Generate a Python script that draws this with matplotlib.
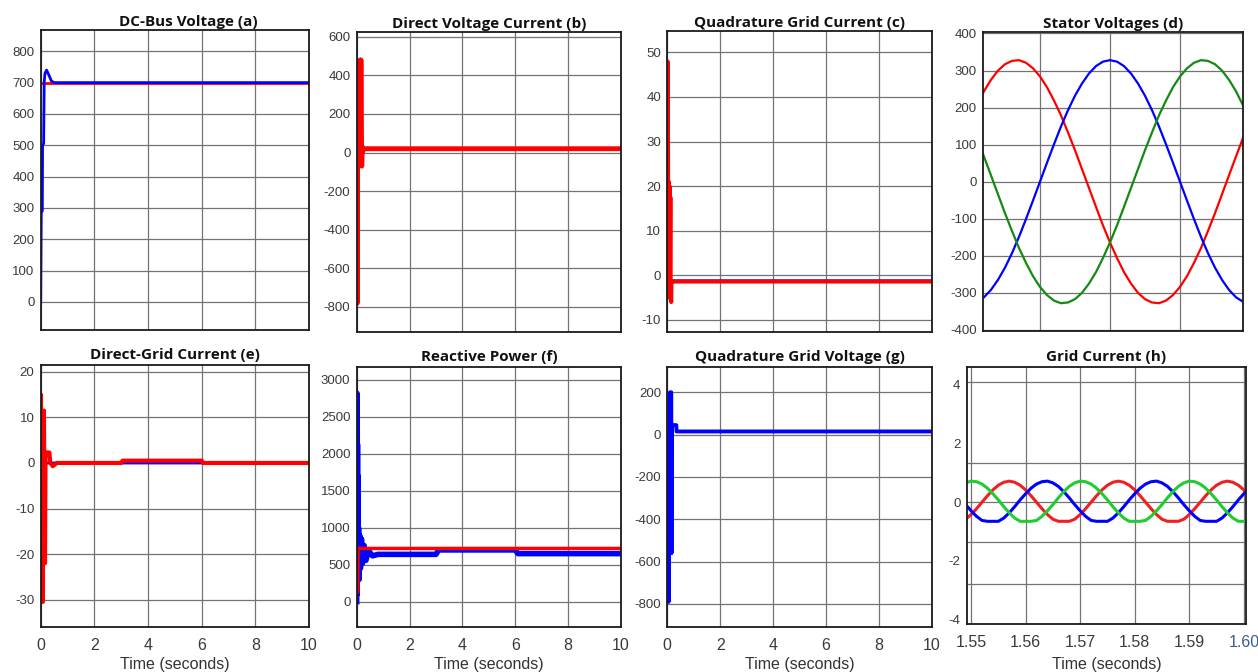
import matplotlib
matplotlib.use("Agg")
import matplotlib.pyplot as plt

plt.rcParams["font.family"] = ["Liberation Sans", "DejaVu Sans"]
plt.rcParams["axes.unicode_minus"] = False

# ---- data ----
# (a) DC-bus voltage
dc_t = [0, 0.02, 0.06, 0.07, 0.11, 0.13, 0.16, 0.22, 0.30, 0.40, 0.50, 10]
dc_v = [0, 285, 290, 500, 505, 700, 730, 740, 725, 705, 700, 700]
dc_ref_t = [0, 10]
dc_ref = [700, 700]

# (b) direct voltage current
idv_t = [0, 0.025, 0.04, 0.05, 0.07, 0.08, 0.10, 0.11, 0.13, 0.14, 0.16, 0.19, 0.21, 0.23, 0.25, 10]
idv = [0, -780, 370, 150, 450, 130, 460, 10, 480, 20, 480, -70, 30, 5, 20, 20]

# (c) quadrature grid current
iq_t = [0, 0.01, 0.03, 0.04, 0.06, 0.07, 0.09, 0.10, 0.12, 0.13, 0.15, 0.16, 0.18, 10]
iq = [0, 48, 30, -5, 21, 0, 20, -5, 17.5, -2, -6, -1.4, -1.4, -1.4]
iq_ref_t = [0, 0.02, 10]
iq_ref = [0, -1.2, -1.2]

# (d) stator voltages over one cycle window (s)
sv_t = [0.0000, 0.0005, 0.0010, 0.0015, 0.0020, 0.0025, 0.0030, 0.0035, 0.0040, 0.0045,
        0.0050, 0.0055, 0.0060, 0.0065, 0.0070, 0.0075, 0.0080, 0.0085, 0.0090, 0.0095,
        0.0100, 0.0105, 0.0110, 0.0115, 0.0120, 0.0125, 0.0130, 0.0135, 0.0140, 0.0145,
        0.0150, 0.0155, 0.0160, 0.0165, 0.0170, 0.0175, 0.0180, 0.0185, 0.0190, 0.0195,
        0.0200]
sv_a = [164, 206, 244, 275, 300, 317, 326, 328, 321, 306,
        284, 255, 219, 179, 133, 85, 34, -17, -68, -118,
        -164, -206, -244, -275, -300, -317, -326, -328, -321, -306,
        -284, -255, -219, -179, -133, -85, -34, 17, 68, 118,
        164]
sv_b = [-328, -324, -312, -292, -265, -232, -193, -149, -101, -51,
        0, 51, 101, 149, 193, 232, 265, 292, 312, 324,
        328, 324, 312, 292, 265, 232, 193, 149, 101, 51,
        0, -51, -101, -149, -193, -232, -265, -292, -312, -324,
        -328]
sv_c = [164, 118, 68, 17, -34, -85, -133, -179, -219, -255,
        -284, -306, -321, -328, -326, -317, -300, -275, -244, -206,
        -164, -118, -68, -17, 34, 85, 133, 179, 219, 255,
        284, 306, 321, 328, 326, 317, 300, 275, 244, 206,
        164]

# (e) direct grid current
idg_t = [0, 0.01, 0.02, 0.04, 0.06, 0.08, 0.10, 0.12, 0.14, 0.16, 0.18, 0.32, 0.36, 0.45, 0.6,
         3.0, 3.05, 6.0, 6.05, 10]
idg = [0, 15, -26, 5, -20, -30.5, 0, 11.5, -10, -22, 2.3, 2.3, 0, -0.7, 0,
       0, 0.5, 0.5, 0, 0]
idg_ref_t = [0, 0.09, 0.10, 0.11, 0.12, 10]
idg_ref = [0, 0, 2.2, -1.5, 0, 0]

# (f) reactive power
q_t = [0, 0.01, 0.02, 0.03, 0.04, 0.05, 0.06, 0.07, 0.09, 0.11, 0.14, 0.18, 0.22, 0.28, 0.35,
       0.45, 0.6, 0.8, 3.0, 3.1, 6.0, 6.1, 10]
q = [0, 2820, 100, 2130, 300, 1700, 350, 1000, 300, 900, 450, 850, 520, 760, 560,
     690, 620, 640, 640, 700, 700, 650, 650]
q_ref_t = [0, 0.04, 0.05, 10]
q_ref = [130, 130, 720, 720]

# (g) quadrature grid voltage
vq_t = [0, 0.01, 0.03, 0.05, 0.07, 0.08, 0.10, 0.15, 0.16, 0.17, 0.20, 0.34, 0.35, 10]
vq = [0, -750, -380, -790, -440, -200, 200, 200, -560, 40, 45, 45, 15, 15]

# (h) grid currents
gc_t = [1.549, 1.550, 1.551, 1.552, 1.553, 1.554, 1.555, 1.556, 1.557, 1.558, 1.559,
        1.560, 1.561, 1.562, 1.563, 1.564, 1.565, 1.566, 1.567, 1.568, 1.569,
        1.570, 1.571, 1.572, 1.573, 1.574, 1.575, 1.576, 1.577, 1.578, 1.579,
        1.580, 1.581, 1.582, 1.583, 1.584, 1.585, 1.586, 1.587, 1.588, 1.589,
        1.590, 1.591, 1.592, 1.593, 1.594, 1.595, 1.596, 1.597, 1.598, 1.599,
        1.600, 1.601]
gc_a = [-0.58, -0.42, -0.22, 0.0, 0.22, 0.42, 0.58, 0.68, 0.72, 0.68, 0.58, 0.42, 0.22, 0.0, -0.22, -0.42, -0.58, -0.65, -0.65, -0.65,
        -0.58, -0.42, -0.22, 0.0, 0.22, 0.42, 0.58, 0.68, 0.72, 0.68, 0.58, 0.42, 0.22, 0.0, -0.22, -0.42, -0.58, -0.65, -0.65, -0.65,
        -0.58, -0.42, -0.22, 0.0, 0.22, 0.42, 0.58, 0.68, 0.72, 0.68, 0.58, 0.42, 0.22]
gc_b = [-0.08, -0.29, -0.48, -0.62, -0.65, -0.65, -0.65, -0.54, -0.36, -0.15, 0.08, 0.29, 0.48, 0.62, 0.70, 0.72, 0.66, 0.54, 0.36, 0.15,
        -0.08, -0.29, -0.48, -0.62, -0.65, -0.65, -0.65, -0.54, -0.36, -0.15, 0.08, 0.29, 0.48, 0.62, 0.70, 0.72, 0.66, 0.54, 0.36, 0.15,
        -0.08, -0.29, -0.48, -0.62, -0.65, -0.65, -0.65, -0.54, -0.36, -0.15, 0.08, 0.29, 0.48]
gc_c = [0.66, 0.72, 0.70, 0.62, 0.48, 0.29, 0.08, -0.15, -0.36, -0.54, -0.65, -0.65, -0.65, -0.62, -0.48, -0.29, -0.08, 0.15, 0.36, 0.54,
        0.66, 0.72, 0.70, 0.62, 0.48, 0.29, 0.08, -0.15, -0.36, -0.54, -0.65, -0.65, -0.65, -0.62, -0.48, -0.29, -0.08, 0.15, 0.36, 0.54,
        0.66, 0.72, 0.70, 0.62, 0.48, 0.29, 0.08, -0.15, -0.36, -0.54, -0.65, -0.65, -0.65]

RED = "#ff0000"
BLUE = "#0000ff"
GRID = "#737373"
W, H = 1258, 672
fig = plt.figure(figsize=(12.58, 6.72), dpi=100)


def add_panel(left, right, top, bottom):
    return fig.add_axes([left / W, 1 - bottom / H, (right - left) / W, (bottom - top) / H])


def style(ax, title, ylim, yticks, xlim=(0, 10), xticks=(0, 2, 4, 6, 8, 10), bottom=False, pad=3,
          labelpad=3):
    ax.set_xlim(xlim)
    ax.set_ylim(ylim)
    ax.set_xticks(xticks)
    ax.set_yticks(yticks)
    ax.set_axisbelow(True)
    ax.grid(True, color=GRID, linewidth=0.9)
    for sp in ax.spines.values():
        sp.set_linewidth(1.3)
        sp.set_color("#1a1a1a")
    ax.tick_params(axis="y", length=0, labelsize=9.5, labelcolor="#3a3a3a", pad=4.5)
    ax.tick_params(axis="x", length=0, labelsize=11.5, labelcolor="#3a3a3a", pad=8)
    if not bottom:
        ax.tick_params(axis="x", labelbottom=False)
    else:
        ax.set_xlabel("Time (seconds)", fontsize=11.5, color="#333333", labelpad=labelpad)
    ax.set_title(title, family=["Open Sans", "DejaVu Sans"], fontweight="bold",
                 fontsize=11, color="#111111", pad=pad)


# (a)
ax = add_panel(40.7, 309, 30, 330)
ax.plot(dc_ref_t, dc_ref, color=RED, lw=2)
ax.plot(dc_t, dc_v, color=BLUE, lw=2)
style(ax, "DC-Bus Voltage (a)", (-90, 868), range(0, 801, 100))
ax.title.set_position((0.55, 1.0))

# (b)
ax = add_panel(356.7, 621, 32, 332)
ax.plot(idv_t, idv, color=RED, lw=3.5)
style(ax, "Direct Voltage Current (b)", (-930, 625), range(-800, 601, 200))

# (c)
ax = add_panel(667.3, 932, 31, 332)
ax.plot(iq_ref_t, iq_ref, color=BLUE, lw=2)
ax.plot(iq_t, iq, color=RED, lw=2.8)
style(ax, "Quadrature Grid Current (c)", (-12.7, 54.8), range(-10, 51, 10))

# (d)
ax = add_panel(983, 1243, 32, 331)
ax.plot(sv_t, sv_a, color=RED, lw=1.6)
ax.plot(sv_t, sv_b, color=BLUE, lw=1.6)
ax.plot(sv_t, sv_c, color="#138a13", lw=1.6)
style(ax, "Stator Voltages (d)", (-403, 404), range(-400, 401, 100),
      xlim=(0.00093, 0.0195), xticks=(0.005, 0.010, 0.015))

# (e)
ax = add_panel(40.7, 309, 365, 627)
ax.plot(idg_ref_t, idg_ref, color=BLUE, lw=2)
ax.plot(idg_t, idg, color=RED, lw=3)
style(ax, "Direct-Grid Current (e)", (-36, 21.5), range(-30, 21, 10), bottom=True, pad=4)

# (f)
ax = add_panel(356.7, 621, 366.7, 627)
ax.plot(q_t, q, color=BLUE, lw=4)
ax.plot(q_ref_t, q_ref, color=RED, lw=2.5)
style(ax, "Reactive Power (f)", (-343, 3180), range(0, 3001, 500), bottom=True, pad=4)

# (g)
ax = add_panel(667.3, 931.7, 366.7, 627)
ax.plot(vq_t, vq, color=BLUE, lw=2.8)
style(ax, "Quadrature Grid Voltage (g)", (-909, 321), range(-800, 201, 200), bottom=True, pad=4)

# (h)
ax = add_panel(966.7, 1246, 366.7, 624)
ax.plot(gc_t, gc_a, color="#f02020", lw=2.2)
ax.plot(gc_t, gc_b, color=BLUE, lw=2.2)
ax.plot(gc_t, gc_c, color="#20cc30", lw=2.2)
style(ax, "Grid Current (h)", (-4.15, 4.62), (-4, -2, 0, 2, 4),
      xlim=(1.5492, 1.6004), xticks=(1.55, 1.56, 1.57, 1.58, 1.59, 1.60), bottom=True, pad=4,
      labelpad=5)
ax.grid(False, axis="y")
for yg in (4.11, 1.33, 0, -1.36, -2.8):
    ax.axhline(yg, color=GRID, lw=0.9, zorder=0.5)
ax.set_xticklabels(["1.55", "1.56", "1.57", "1.58", "1.59", "1.60"])
ax.get_xticklabels()[-1].set_color("#3a5a8a")

fig.savefig("out.png", dpi=100, facecolor="white")
